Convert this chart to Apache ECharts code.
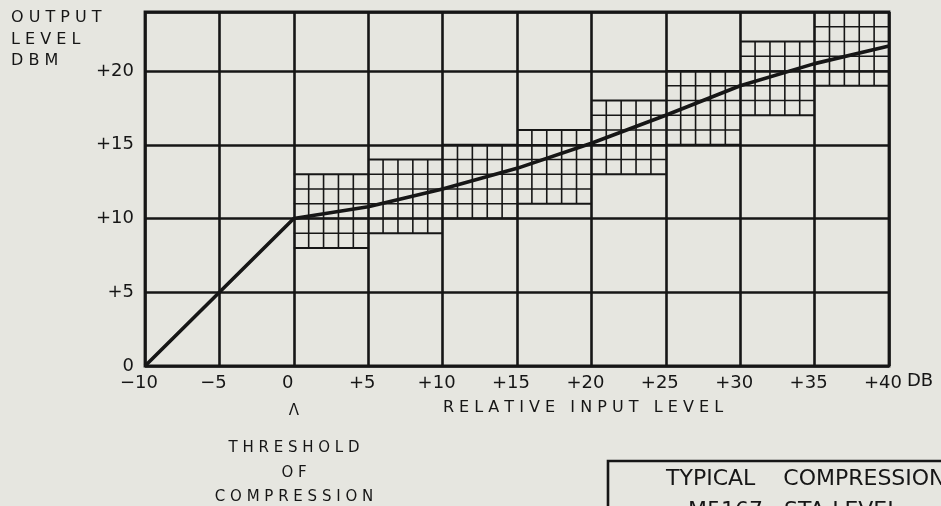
<!DOCTYPE html>
<html>
<head>
<meta charset="utf-8">
<script src="https://cdn.jsdelivr.net/npm/echarts@6/dist/echarts.min.js"></script>
<style>
  html, body { margin: 0; padding: 0; background: #e6e6e0; }
  #chart { width: 941px; height: 506px; }
</style>
</head>
<body>
<div id="chart"></div>
<script>
// input level (dB) and output level (dBm) of the compression curve
const inputLevel = [-10, -5, 0, 5, 10, 15, 20, 25, 30, 35, 40]
const outputLevel = [0, 5, 10, 10.8, 12, 13.4, 15.1, 17, 19, 20.5, 21.7]

// fine-ruled boxes: left edge (input dB) and bottom edge (output dBm), 5 x 5 dB each
const boxInput = [0, 5, 10, 15, 20, 25, 30, 35]
const boxOutput = [8, 9, 10, 11, 13, 15, 17, 19]
const boxSize = 5

const xTickLabels = { '-10': '\u221210', '-5': '\u22125', '0': '0', '5': '+5', '10': '+10', '15': '+15',
  '20': '+20', '25': '+25', '30': '+30', '35': '+35', '40': '+40' }
const yTickLabels = { '0': '0', '5': '+5', '10': '+10', '15': '+15', '20': '+20' }

const ink = '#161616'
const font = 'DejaVu Sans'

const chart = echarts.init(document.getElementById('chart'))

const boxData = boxInput.map((x, i) => [x, boxOutput[i]])
const curveData = inputLevel.map((x, i) => [x, outputLevel[i]])

function renderBox(params, api) {
  const x0 = api.value(0)
  const y0 = api.value(1)
  const children = []
  for (let k = 0; k <= boxSize; k++) {
    const a = api.coord([x0, y0 + k])
    const b = api.coord([x0 + boxSize, y0 + k])
    children.push({
      type: 'line',
      shape: { x1: a[0], y1: a[1], x2: b[0], y2: b[1] },
      style: { stroke: ink, lineWidth: (k === 0 || k === boxSize) ? 2.2 : 1.6 }
    })
  }
  for (let k = 1; k < boxSize; k++) {
    const a = api.coord([x0 + k, y0])
    const b = api.coord([x0 + k, y0 + boxSize])
    children.push({
      type: 'line',
      shape: { x1: a[0], y1: a[1], x2: b[0], y2: b[1] },
      style: { stroke: ink, lineWidth: 1.6 }
    })
  }
  return { type: 'group', children: children }
}

function txt(text, size, extra) {
  return Object.assign({ text: text, fill: ink, font: size + 'px "' + font + '"' }, extra || {})
}

chart.setOption({
  backgroundColor: '#e6e6e0',
  animation: false,
  grid: {
    left: 145,
    right: 52,
    top: 12,
    bottom: 140,
    show: true,
    borderColor: ink,
    borderWidth: 2.8,
    backgroundColor: 'transparent'
  },
  xAxis: {
    type: 'value',
    min: -10,
    max: 40,
    interval: 5,
    axisLine: { show: false },
    axisTick: { show: false },
    splitLine: { lineStyle: { color: ink, width: 2.6 } },
    axisLabel: {
      color: ink,
      fontFamily: font,
      fontSize: 18,
      margin: 8,
      padding: [0, 12, 0, 0],
      formatter: v => xTickLabels[String(v)] || ''
    }
  },
  yAxis: {
    type: 'value',
    min: 0,
    max: 24,
    interval: 5,
    axisLine: { show: false },
    axisTick: { show: false },
    splitLine: { lineStyle: { color: ink, width: 2.6 } },
    axisLabel: {
      color: ink,
      fontFamily: font,
      fontSize: 18,
      margin: 11,
      formatter: v => yTickLabels[String(v)] || ''
    }
  },
  series: [
    {
      type: 'custom',
      renderItem: renderBox,
      data: boxData,
      encode: { x: 0, y: 1 },
      silent: true,
      z: 2
    },
    {
      type: 'line',
      data: curveData,
      showSymbol: false,
      lineStyle: { color: ink, width: 3.6 },
      silent: true,
      z: 5
    }
  ],
  graphic: [
    { type: 'text', left: 11, top: 10, style: txt('O U T P U T', 16) },
    { type: 'text', left: 11, top: 32, style: txt('L E V E L', 16) },
    { type: 'text', left: 11, top: 53, style: txt('D B M', 16) },
    { type: 'text', left: 907, top: 372, style: txt('DB', 18) },
    { type: 'text', x: 583, y: 408, style: txt('R E L A T I V E   I N P U T   L E V E L', 16, { align: 'center', verticalAlign: 'middle' }) },
    { type: 'text', x: 294, y: 411, style: txt('\u039B', 15, { align: 'center', verticalAlign: 'middle' }) },
    { type: 'text', x: 294, y: 448, style: txt('T H R E S H O L D', 15, { align: 'center', verticalAlign: 'middle' }) },
    { type: 'text', x: 294, y: 473, style: txt('O F', 15, { align: 'center', verticalAlign: 'middle' }) },
    { type: 'text', x: 294, y: 497, style: txt('C O M P R E S S I O N', 15, { align: 'center', verticalAlign: 'middle' }) },
    { type: 'rect', shape: { x: 608, y: 461, width: 360, height: 80 }, style: { fill: 'transparent', stroke: ink, lineWidth: 2.6 } },
    { type: 'text', left: 666, top: 468, style: txt('TYPICAL    COMPRESSION', 22) },
    { type: 'text', left: 688, top: 500, style: txt('M5167   STA-LEVEL', 22) }
  ]
})
</script>
</body>
</html>
